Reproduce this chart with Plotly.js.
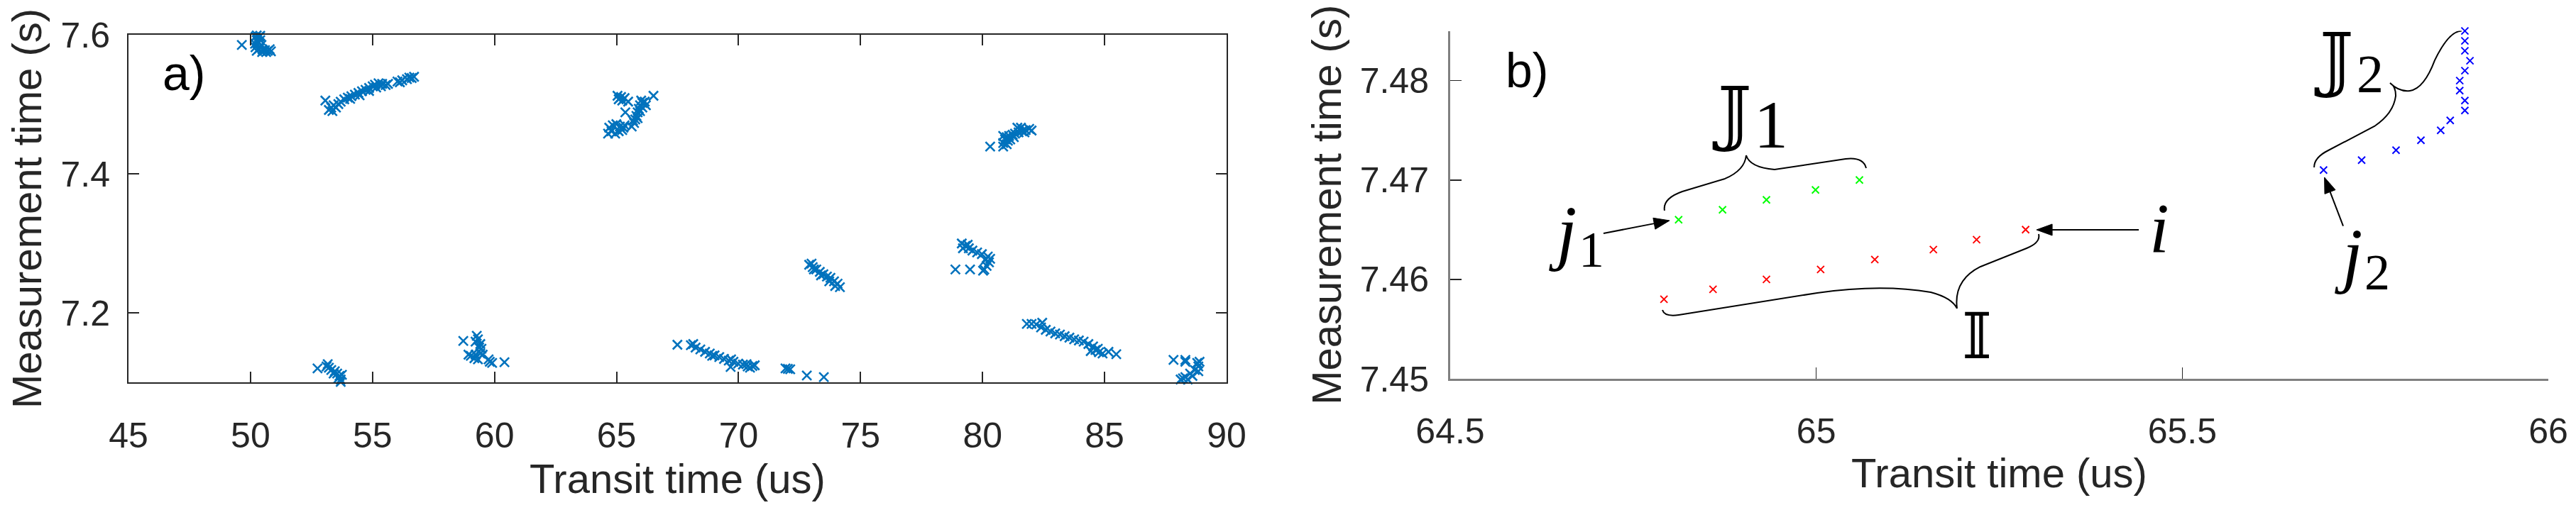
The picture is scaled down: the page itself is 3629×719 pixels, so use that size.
<!DOCTYPE html>
<html>
<head>
<meta charset="utf-8">
<script src="https://cdn.plot.ly/plotly-3.0.1.min.js"></script>
<style>html,body{margin:0;padding:0;background:#fff;}#chart{width:3629px;height:719px;}</style>
</head>
<body>
<div id="chart"></div>
<script>
// ---------- Panel a) : detections (transit time in us, measurement time in s) ----------
const clusterA_x = [49.644,50.255,50.400,50.206,50.352,50.255,50.400,50.187,50.323,50.449,50.206,50.352,50.255,50.497,50.594,50.711,50.837,50.788,50.478,50.643];
const clusterA_y = [7.5854,7.5990,7.5985,7.5970,7.5970,7.5922,7.5922,7.5871,7.5881,7.5854,7.5820,7.5800,7.5769,7.5786,7.5779,7.5769,7.5762,7.5792,7.5752,7.5752];
const clusterB_x = [53.067,53.212,53.309,53.406,53.357,53.503,53.600,53.697,53.842,53.988,54.133,54.279,54.424,54.569,54.715,54.860,55.006,55.103,55.248,55.394,55.539,55.636,54.085,54.472,54.860,55.151,55.345,56.024,56.218,56.412,56.606,56.703,56.121,56.509];
const clusterB_y = [7.5054,7.4918,7.4952,7.4986,7.4901,7.4952,7.5003,7.5037,7.5071,7.5095,7.5116,7.5139,7.5163,7.5187,7.5208,7.5235,7.5259,7.5282,7.5303,7.5293,7.5276,7.5293,7.5078,7.5129,7.5191,7.5241,7.5259,7.5327,7.5344,7.5361,7.5378,7.5395,7.5316,7.5384];
const clusterC_x = [65.040,65.186,65.331,65.477,65.234,65.089,65.360,66.514,64.701,64.847,64.992,65.137,65.283,64.798,64.944,65.089,65.234,64.653,65.331,65.622,65.719,65.768,65.816,65.865,65.913,65.962,66.059,66.156,66.204,66.010,65.671,65.865,65.962,66.059];
const clusterC_y = [7.5122,7.5105,7.5089,7.5038,7.5054,7.5071,7.4884,7.5122,7.4663,7.4697,7.4714,7.4680,7.4663,7.4612,7.4578,7.4612,7.4629,7.4578,7.4697,7.4680,7.4731,7.4782,7.4833,7.4884,7.4935,7.4986,7.5020,7.5038,7.4986,7.5054,7.4765,7.4799,7.4901,7.4952];
const clusterD_x = [80.311,80.845,80.845,80.845,80.990,80.990,81.087,81.135,81.232,81.329,81.426,81.475,81.620,81.572,81.766,81.911,82.008,81.038,81.281,81.717,80.922];
const clusterD_y = [7.4391,7.4544,7.4442,7.4391,7.4527,7.4425,7.4544,7.4493,7.4561,7.4578,7.4663,7.4595,7.4612,7.4663,7.4629,7.4646,7.4622,7.4476,7.4527,7.4595,7.4493];
const clusterE_x = [72.894,73.039,73.185,73.330,73.476,73.621,73.766,73.912,74.057,74.154,73.088,73.379,73.718,73.960,72.991];
const clusterE_y = [7.2691,7.2657,7.2623,7.2589,7.2555,7.2521,7.2504,7.2453,7.2419,7.2368,7.2623,7.2538,7.2453,7.2385,7.2708];
const clusterF_x = [78.886,79.487,79.148,79.293,79.438,79.584,79.778,79.972,80.214,80.311,80.263,80.166,80.069,80.020,79.196,79.390,80.117];
const clusterF_y = [7.2623,7.2623,7.2997,7.2963,7.2929,7.2895,7.2868,7.2844,7.2810,7.2776,7.2725,7.2674,7.2623,7.2606,7.2929,7.2980,7.2759];
const clusterK_x = [52.747,53.164,53.213,53.310,53.455,53.552,53.649,53.697,53.746,53.600,53.406,53.116,53.697];
const clusterK_y = [7.1201,7.1262,7.1211,7.1177,7.1160,7.1126,7.1092,7.1041,7.1109,7.1058,7.1126,7.1228,7.1007];
const clusterL_x = [58.720,60.407,59.272,59.321,59.418,59.466,59.418,59.224,59.030,58.933,59.176,59.321,59.515,59.757,59.903,59.806,59.224,59.369];
const clusterL_y = [7.1595,7.1289,7.1670,7.1619,7.1551,7.1483,7.1415,7.1398,7.1381,7.1398,7.1347,7.1330,7.1398,7.1330,7.1279,7.1296,7.1585,7.1500];
const clusterH_x = [67.494,69.675,68.046,68.240,68.434,68.628,68.822,69.016,69.210,69.404,69.598,69.791,69.985,70.179,70.373,70.567,70.664,68.143,68.919,69.695,70.325,70.470];
const clusterH_y = [7.1541,7.1221,7.1534,7.1500,7.1473,7.1439,7.1415,7.1388,7.1364,7.1337,7.1313,7.1296,7.1269,7.1255,7.1228,7.1235,7.1245,7.1551,7.1381,7.1330,7.1262,7.1211];
const clusterI_x = [71.924,72.118,72.021,72.797,73.495];
const clusterI_y = [7.1201,7.1187,7.1194,7.1099,7.1075];
const clusterG_x = [81.814,82.008,82.202,82.444,82.396,82.590,82.783,82.977,83.171,83.365,83.559,83.753,83.947,84.141,84.335,84.529,84.626,84.432,84.771,84.917,85.159,85.479,84.723];
const clusterG_y = [7.1840,7.1840,7.1833,7.1857,7.1789,7.1755,7.1731,7.1704,7.1687,7.1663,7.1643,7.1619,7.1602,7.1585,7.1551,7.1517,7.1466,7.1449,7.1432,7.1415,7.1439,7.1405,7.1483];
const clusterJ_x = [87.825,88.310,88.310,88.116,88.310,88.504,88.698,88.843,88.892,88.795,88.213,88.601,88.843,88.407];
const clusterJ_y = [7.1323,7.1296,7.1323,7.1041,7.1075,7.1126,7.1177,7.1228,7.1296,7.1279,7.1058,7.1092,7.1160,7.1041];

// ---------- Panel b) : zoom on three tracks ----------
const setI_x  = [64.792,64.859,64.932,65.006,65.080,65.160,65.219,65.286];
const setI_y  = [7.458,7.459,7.460,7.461,7.462,7.463,7.464,7.465];
const setJ1_x = [64.812,64.872,64.932,64.999,65.059];
const setJ1_y = [7.466,7.467,7.468,7.469,7.470];
const setJ2_x = [65.693,65.745,65.792,65.826,65.853,65.866,65.886,65.886,65.879,65.879,65.886,65.893,65.886,65.886,65.886];
const setJ2_y = [7.471,7.472,7.473,7.474,7.475,7.476,7.477,7.478,7.479,7.480,7.481,7.482,7.483,7.484,7.485];

// tick labels
const ticksA_x = [45,50,55,60,65,70,75,80,85,90];
const ticksA_y = [7.2,7.4,7.6];
const ticksB_x = [64.5,65,65.5,66];
const ticksB_y = [7.45,7.46,7.47,7.48];

const W = 3629, H = 719;
const px = v => v / W;          // pixel -> paper x
const py = v => 1 - v / H;      // pixel -> paper y

const aX = [].concat(clusterA_x,clusterB_x,clusterC_x,clusterD_x,clusterE_x,clusterF_x,clusterK_x,clusterL_x,clusterH_x,clusterI_x,clusterG_x,clusterJ_x);
const aY = [].concat(clusterA_y,clusterB_y,clusterC_y,clusterD_y,clusterE_y,clusterF_y,clusterK_y,clusterL_y,clusterH_y,clusterI_y,clusterG_y,clusterJ_y);

const sans = 'Liberation Sans, Arial, sans-serif';
const dark = '#262626';

function mk(x, y, color, size, lw, xa, ya, name) {
  return {type:'scatter', mode:'markers', x:x, y:y, xaxis:xa, yaxis:ya, name:name, cliponaxis:false,
    hoverinfo:'x+y',
    marker:{symbol:'x-thin-open', size:size, color:color, line:{color:color, width:lw}}};
}

const data = [
  mk(aX, aY, '#0072BD', 13, 2.6, 'x', 'y', 'detections'),
  mk(setI_x, setI_y, '#FF0000', 10, 2, 'x2', 'y2', 'I'),
  mk(setJ1_x, setJ1_y, '#00FF00', 10, 2, 'x2', 'y2', 'J1'),
  mk(setJ2_x, setJ2_y, '#0000FF', 10, 2, 'x2', 'y2', 'J2')
];

const axCommon = {
  showgrid:false, zeroline:false, showline:true, ticks:'inside',
  tickfont:{family:sans, size:50, color:dark}
};

// arrow helper: line shape + filled triangular head (data coordinates of panel b)
function arrow(tail, base, tip, c1, c2) {
  return [
    {type:'line', xref:'x2', yref:'y2', x0:tail[0], y0:tail[1], x1:base[0], y1:base[1], line:{color:'#000', width:2}},
    {type:'path', xref:'x2', yref:'y2', fillcolor:'#000', line:{color:'#000', width:1},
     path:'M'+tip[0]+','+tip[1]+' L'+c1[0]+','+c1[1]+' L'+c2[0]+','+c2[1]+' Z'}
  ];
}

const braceLine = {color:'#000', width:2};
const shapes = [
  // curly brace over J1
  {type:'path', xref:'x2', yref:'y2', line:braceLine,
   path:'M64.7928,7.46692 Q64.7899,7.46813 64.8171,7.46884 L64.8753,7.47013 Q64.9024,7.47098 64.9043,7.47248 Q64.9092,7.47127 64.9431,7.47105 L65.0401,7.47212 Q65.0643,7.47233 65.0682,7.47119'},
  // curly brace under I
  {type:'path', xref:'x2', yref:'y2', line:braceLine,
   path:'M64.7899,7.45692 Q64.7928,7.45621 64.8122,7.45642 L65.0013,7.45864 Q65.0886,7.45956 65.1564,7.45871 Q65.1855,7.45814 65.1923,7.45707 Q65.1875,7.45992 65.2243,7.46128 L65.2874,7.46313 Q65.3067,7.46370 65.3038,7.46456'},
  // curly brace along J2
  {type:'path', xref:'x2', yref:'y2', line:braceLine,
   path:'M65.6801,7.47127 Q65.6801,7.47227 65.6995,7.47298 L65.7625,7.47541 Q65.7887,7.47670 65.7916,7.47848 Q65.7916,7.47941 65.7838,7.47976 Q65.7964,7.47884 65.8110,7.47898 Q65.8303,7.47919 65.8449,7.48205 Q65.8643,7.48500 65.8817,7.48500'}
].concat(
  arrow([64.7094,7.46463],[64.7787,7.46562],[64.7996,7.46592],[64.7801,7.46505],[64.7772,7.46618]),   // j1 -> first of J1
  arrow([65.4406,7.46499],[65.3223,7.46499],[65.3009,7.46499],[65.3223,7.46556],[65.3223,7.46442]),   // i -> last of I
  arrow([65.7198,7.46537],[65.7019,7.46881],[65.6942,7.47027],[65.7091,7.46901],[65.6946,7.46860])    // j2 -> first of J2
);

const serifM = 'DejaVu Serif, DejaVu Sans, serif';
const serifI = 'Liberation Serif, serif';

function lab(text, xPix, yPix, xanchor, family, size, italic) {
  return {xref:'paper', yref:'paper', x:px(xPix), y:py(yPix), xanchor:xanchor, yanchor:'middle',
    showarrow:false, borderpad:0, text:text,
    font:{family:family, size:size, color:'#000', style: italic ? 'italic' : 'normal'}};
}

const layout = {
  width:W, height:H, margin:{l:0,r:0,t:0,b:0},
  paper_bgcolor:'#ffffff', plot_bgcolor:'#ffffff', showlegend:false,
  xaxis: Object.assign({}, axCommon, {
    domain:[181/W, 1728/W], range:[45,90], anchor:'y', tickmode:'array', tickvals:ticksA_x,
    linecolor:dark, linewidth:2, mirror:'ticks', ticklen:15, tickwidth:2, tickcolor:dark,
    ticklabelstandoff:30,
    title:{text:'Transit time (us)', font:{family:sans, size:58, color:dark}, standoff:12}
  }),
  yaxis: Object.assign({}, axCommon, {
    domain:[1-539/H, 1-49/H], range:[7.1,7.6], anchor:'x', tickmode:'array', tickvals:ticksA_y,
    linecolor:dark, linewidth:2, mirror:'ticks', ticklen:15, tickwidth:2, tickcolor:dark,
    ticklabelstandoff:14,
    title:{text:'Measurement time (s)', font:{family:sans, size:58, color:dark}, standoff:8}
  }),
  xaxis2: Object.assign({}, axCommon, {
    domain:[2043/W, 3590/W], range:[64.5,66], anchor:'y2', tickmode:'array', tickvals:ticksB_x,
    linecolor:'#808080', linewidth:3, mirror:false, ticklen:16, tickwidth:1.5, tickcolor:dark,
    ticklabelstandoff:28,
    title:{text:'Transit time (us)', font:{family:sans, size:58, color:dark}, standoff:12}
  }),
  yaxis2: Object.assign({}, axCommon, {
    domain:[1-534/H, 1-43.6/H], range:[7.45,7.485], anchor:'x2', tickmode:'array', tickvals:ticksB_y,
    linecolor:'#808080', linewidth:3, mirror:false, ticklen:16, tickwidth:1.5, tickcolor:dark,
    ticklabelstandoff:17,
    title:{text:'Measurement time (s)', font:{family:sans, size:58, color:dark}, standoff:8}
  }),
  shapes: shapes,
  annotations: [
    lab('a)', 228, 103, 'left', sans, 68, false),
    lab('b)', 2120, 99, 'left', sans, 68, false),
    // J1 = double-struck J with subscript 1
    lab('𝕁', 2468, 158, 'right', serifM, 100, false),
    lab('1', 2470, 175, 'left', serifI, 96, false),
    // I
    lab('𝕀', 2785, 473, 'center', serifM, 90, false),
    // J2
    lab('𝕁', 3316, 82, 'right', serifM, 100, false),
    lab('2', 3319, 104, 'left', serifI, 76, false),
    // j1
    lab('j', 2222, 326, 'right', serifI, 102, true),
    lab('1', 2223, 352, 'left', serifI, 72, false),
    // j2
    lab('j', 3329, 358, 'right', serifI, 102, true),
    lab('2', 3330, 384, 'left', serifI, 72, false),
    // i
    lab('i', 3042, 321, 'center', serifI, 100, true)
  ]
};

Plotly.newPlot('chart', data, layout, {displayModeBar:false, staticPlot:true});
</script>
</body>
</html>
